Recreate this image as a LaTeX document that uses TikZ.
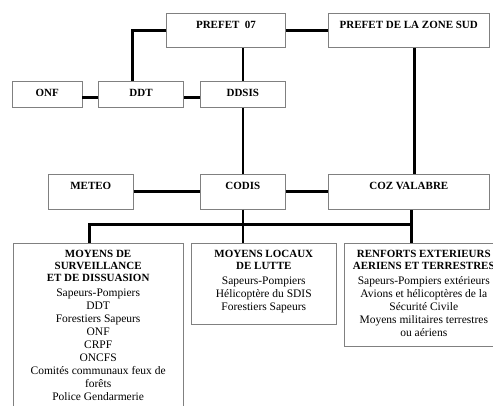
\documentclass[tikz,border=0pt]{standalone}
\usepackage{fontspec}
\setmainfont{Liberation Serif}
\definecolor{boxgray}{HTML}{808080}
\newcommand\hdline[1]{{\fontsize{11}{12}\selectfont\bfseries #1}}
\begin{document}
\begin{tikzpicture}[x=1pt,y=-1pt,
  box/.style={draw=boxgray, line width=0.9pt, inner sep=0pt},
  conn/.style={line width=2.6pt, black},
  blab/.style={font=\fontsize{11}{12}\selectfont\bfseries, inner sep=0pt, anchor=north, align=center},
  btext/.style={font=\fontsize{11.5}{13}\selectfont, inner sep=0pt, anchor=north, align=center},
]
\useasboundingbox (0,0) rectangle (493,406);
\clip (0,0) rectangle (493,406);

% boxes
\node[box, minimum width=118.6pt, minimum height=34.4pt] (p07) at (226,30.5) {};
\node[box, minimum width=161pt, minimum height=34.4pt] (pz) at (408.8,30.5) {};
\node[box, minimum width=69.3pt, minimum height=26.3pt] (onf) at (47.3,94.2) {};
\node[box, minimum width=84.6pt, minimum height=26.3pt] (ddt) at (141,94.2) {};
\node[box, minimum width=85pt, minimum height=26.3pt] (ddsis) at (242.8,94.2) {};
\node[box, minimum width=85pt, minimum height=35pt] (meteo) at (90.8,191.8) {};
\node[box, minimum width=85pt, minimum height=35pt] (codis) at (242.8,191.8) {};
\node[box, minimum width=161pt, minimum height=35pt] (coz) at (408.8,191.8) {};
\node[box, anchor=north west, minimum width=170pt, minimum height=200pt] (lbox) at (12.7,242.8) {};
\node[box, anchor=north west, minimum width=144.7pt, minimum height=81.2pt] (mbox) at (191,242.8) {};
\node[box, anchor=north west, minimum width=159.3pt, minimum height=103.3pt] (rbox) at (343.7,242.8) {};

% labels
\node[blab] (p07t) at ([yshift=-8.3pt]p07.north) {PREFET\ \ 07};
\node[blab] (pzt) at ([yshift=-8.3pt]pz.north) {PREFET DE LA ZONE SUD};
\node[blab] (onft) at ([yshift=-8.6pt]onf.north) {ONF};
\node[blab] (ddtt) at ([yshift=-8.6pt]ddt.north) {DDT};
\node[blab] (ddsist) at ([yshift=-8.6pt]ddsis.north) {DDSIS};
\node[blab] (meteot) at ([yshift=-7.8pt]meteo.north) {METEO};
\node[blab] (codist) at ([yshift=-7.8pt]codis.north) {CODIS};
\node[blab] (cozt) at ([yshift=-7.8pt]coz.north) {COZ VALABRE};

\node[btext] (lboxt) at ([yshift=-6.9pt]lbox.north) {%
\hdline{MOYENS DE}\\[-1pt]
\hdline{SURVEILLANCE}\\[-1pt]
\hdline{ET DE DISSUASION}\\[2pt]
Sapeurs-Pompiers\\
DDT\\
Forestiers Sapeurs\\
ONF\\
CRPF\\
ONCFS\\
Comités communaux feux de\\
forêts\\
Police Gendarmerie};
\node[btext] (mboxt) at ([yshift=-6.9pt]mbox.north) {%
\hdline{MOYENS LOCAUX}\\[-1pt]
\hdline{DE LUTTE}\\[2pt]
Sapeurs-Pompiers\\
Hélicoptère du SDIS\\
Forestiers Sapeurs};
\node[btext] (rboxt) at ([yshift=-6.9pt]rbox.north) {%
\hdline{RENFORTS EXTERIEURS}\\[-1pt]
\hdline{AERIENS ET TERRESTRES}\\[2pt]
Sapeurs-Pompiers extérieurs\\
Avions et hélicoptères de la\\
Sécurité Civile\\
Moyens militaires terrestres\\
ou aériens};

% connectors
\draw[conn] (p07.west) -| ([xshift=-8.3pt]ddt.north);
\draw[conn] (p07.east) -- (pz.west);
\draw[conn] (ddsis.north) -- (ddsis.north |- p07.south);
\draw[conn] ([yshift=-3.5pt]onf.east) -- ([yshift=-3.5pt]ddt.west);
\draw[conn] ([yshift=-3.5pt]ddt.east) -- ([yshift=-3.5pt]ddsis.west);
\draw[conn] (ddsis.south) -- (codis.north);
\draw[conn] ([xshift=5.5pt]pz.south) -- ([xshift=5.5pt]pz.south |- coz.north);
\draw[conn] (meteo.east) -- (codis.west);
\draw[conn] (codis.east) -- (coz.west);
\coordinate (busL) at (89.3,224.7);
\coordinate (busR) at (411.5,224.7);
\draw[conn] (busL |- lbox.north) -- (busL) -- (busR) -- (busR |- coz.south);
\draw[conn] (busR) -- (busR |- rbox.north);
\draw[conn] (codis.south) -- (codis.south |- mbox.north);
\end{tikzpicture}
\end{document}
